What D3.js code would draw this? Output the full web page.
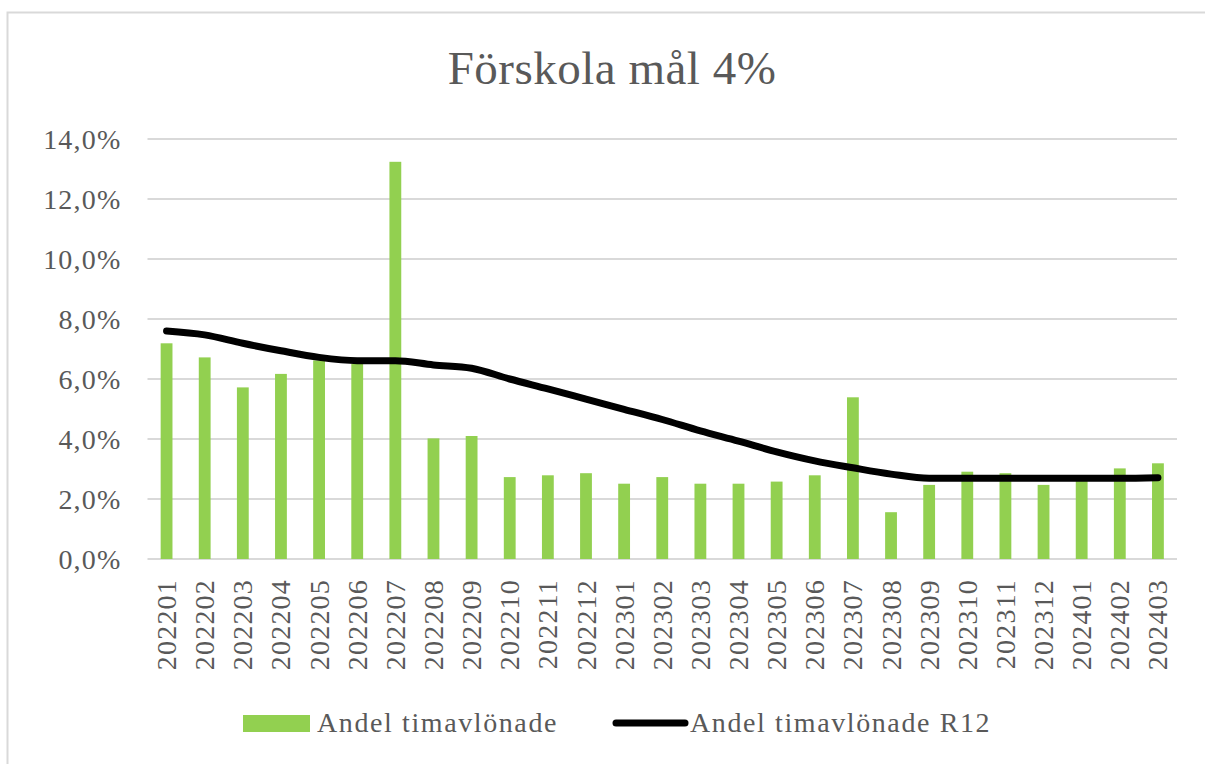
<!DOCTYPE html>
<html>
<head>
<meta charset="utf-8">
<script src="https://cdn.jsdelivr.net/npm/d3@7"></script>
<style>
  html, body { margin: 0; padding: 0; background: #fff; }
  svg { display: block; }
  text { font-family: "Liberation Serif", "Times New Roman", serif; fill: #595959; }
</style>
</head>
<body>
<svg id="chart" width="1205" height="764"></svg>
<script>
// Monthly periods (YYYYMM)
const months = [
  "202201","202202","202203","202204","202205","202206","202207","202208","202209",
  "202210","202211","202212","202301","202302","202303","202304","202305","202306",
  "202307","202308","202309","202310","202311","202312","202401","202402","202403"
];
// Share of hourly-paid staff per month (%)
const andelTimavlonade = [
  7.19, 6.72, 5.72, 6.17, 6.62, 6.50, 13.24, 4.02, 4.10,
  2.73, 2.79, 2.86, 2.51, 2.73, 2.51, 2.51, 2.58, 2.79,
  5.39, 1.56, 2.47, 2.91, 2.86, 2.47, 2.62, 3.02, 3.19
];
// Rolling 12-month share (%)
const andelR12 = [
  7.60, 7.47, 7.19, 6.94, 6.72, 6.61, 6.61, 6.47, 6.36,
  6.00, 5.67, 5.33, 4.99, 4.65, 4.27, 3.93, 3.57, 3.27,
  3.04, 2.83, 2.69, 2.69, 2.69, 2.69, 2.69, 2.69, 2.71
];
const yTicks = [0, 2, 4, 6, 8, 10, 12, 14];
const chartTitle = "Förskola mål 4%";
const seriesNames = ["Andel timavlönade", "Andel timavlönade R12"];

const svg = d3.select("#chart");
const plot = { left: 147.5, right: 1177, top: 139, bottom: 559 };

// Swedish number formatting: decimal comma
const sv = d3.formatLocale({ decimal: ",", thousands: "\u00a0", grouping: [3], currency: ["", " kr"] });
const fmt = sv.format(".1f");

const x = d3.scaleBand()
  .domain(months)
  .range([plot.left, plot.right])
  .paddingInner(0.69)
  .paddingOuter(0.345);
const y = d3.scaleLinear().domain([0, 14]).range([plot.bottom, plot.top]);

// Chart area frame
svg.append("rect")
  .attr("x", 7.5).attr("y", 12.5)
  .attr("width", 1300).attr("height", 900)
  .attr("fill", "none").attr("stroke", "#d9d9d9").attr("stroke-width", 2);

// Title
svg.append("text")
  .attr("x", 612).attr("y", 84)
  .attr("text-anchor", "middle")
  .style("font-size", "47px")
  .style("letter-spacing", "0.5px")
  .text(chartTitle);

// Horizontal gridlines
svg.append("g")
  .selectAll("line")
  .data(yTicks)
  .join("line")
  .attr("x1", plot.left).attr("x2", plot.right)
  .attr("y1", d => y(d)).attr("y2", d => y(d))
  .attr("stroke", "#d9d9d9").attr("stroke-width", 2);

const axisFont = g => g
  .attr("fill", "#595959")
  .style("font-family", "'Liberation Serif', 'Times New Roman', serif")
  .style("font-size", "28px")
  .style("letter-spacing", "1.2px");

// Y axis labels
const yAxis = d3.axisLeft(y).tickValues(yTicks).tickSize(0).tickPadding(0)
  .tickFormat(d => fmt(d) + "%");
svg.append("g")
  .attr("transform", `translate(121.5,0)`)
  .call(yAxis)
  .call(g => g.select(".domain").remove())
  .call(g => g.selectAll("text")
    .attr("dy", "0.33em")
    .call(axisFont));

// X axis labels (rotated)
const xAxis = d3.axisBottom(x).tickSize(0).tickPadding(0);
svg.append("g")
  .attr("transform", `translate(0,${plot.bottom})`)
  .call(xAxis)
  .call(g => g.select(".domain").remove())
  .call(g => g.selectAll("text")
    .attr("transform", "rotate(-90)")
    .attr("text-anchor", "end")
    .attr("x", -20)
    .attr("y", 0)
    .attr("dy", "0.34em")
    .call(axisFont));

// Bars
svg.append("g")
  .selectAll("rect")
  .data(months.map((m, i) => ({ m, v: andelTimavlonade[i] })))
  .join("rect")
  .attr("x", d => x(d.m))
  .attr("width", x.bandwidth())
  .attr("y", d => y(d.v))
  .attr("height", d => y(0) - y(d.v))
  .attr("fill", "#92d050");

// Rolling 12-month line
const line = d3.line()
  .x((d, i) => x(months[i]) + x.bandwidth() / 2)
  .y(d => y(d))
  .curve(d3.curveMonotoneX);
svg.append("path")
  .datum(andelR12)
  .attr("d", line)
  .attr("fill", "none")
  .attr("stroke", "#000")
  .attr("stroke-width", 7)
  .attr("stroke-linecap", "round")
  .attr("stroke-linejoin", "round");

// Legend
const legend = svg.append("g");
legend.append("rect")
  .attr("x", 243).attr("y", 715).attr("width", 67).attr("height", 17)
  .attr("fill", "#92d050");
legend.append("text")
  .attr("x", 317).attr("y", 732)
  .style("font-size", "28px").style("letter-spacing", "1.6px")
  .text(seriesNames[0]);
legend.append("line")
  .attr("x1", 616).attr("x2", 685).attr("y1", 723).attr("y2", 723)
  .attr("stroke", "#000").attr("stroke-width", 7).attr("stroke-linecap", "round");
legend.append("text")
  .attr("x", 690).attr("y", 732)
  .style("font-size", "28px").style("letter-spacing", "1.6px")
  .text(seriesNames[1]);
</script>
</body>
</html>
